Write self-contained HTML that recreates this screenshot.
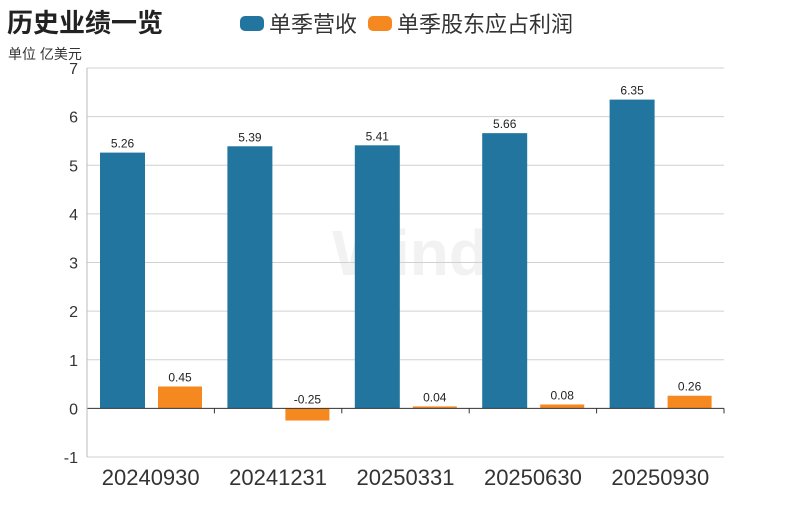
<!DOCTYPE html>
<html><head><meta charset="utf-8">
<style>
body{margin:0;background:#fff;width:796px;height:509px;overflow:hidden;font-family:"Liberation Sans","Noto Sans CJK SC",sans-serif;}
</style></head>
<body>
<svg id="chart" width="796" height="509" xmlns="http://www.w3.org/2000/svg" style="font-family:'Liberation Sans','Noto Sans CJK SC',sans-serif">
<text x="7" y="32" font-size="26" font-weight="bold" fill="#222">历史业绩一览</text>
<text x="8" y="59" font-size="14" fill="#333">单位 亿美元</text>
<g>
<rect x="240" y="16" width="24" height="15" rx="5" fill="#21759f"/>
<text x="269" y="32" font-size="22" fill="#333">单季营收</text>
<rect x="368" y="16" width="24" height="15" rx="5" fill="#f5881f"/>
<text x="397" y="32" font-size="22" fill="#333">单季股东应占利润</text>
</g>
<text x="410" y="275" font-size="64" font-weight="bold" fill="#f2f2f2" text-anchor="middle">Wind</text>
<g id="grid"></g><g id="bars"></g><g id="axes"></g>
</svg>
<script>
const categories=["20240930","20241231","20250331","20250630","20250930"];
const revenue=[5.26,5.39,5.41,5.66,6.35];
const profit=[0.45,-0.25,0.04,0.08,0.26];
const yTicks=[-1,0,1,2,3,4,5,6,7];
const NS="http://www.w3.org/2000/svg";
const x0=87,x1=724,yTop=68,yBot=457,vMin=-1,vMax=7;
const y=v=>yBot-(v-vMin)/(vMax-vMin)*(yBot-yTop);
const bw=(x1-x0)/categories.length;
const xc=i=>x0+i*bw;
function mk(tag,attrs,parent){const e=document.createElementNS(NS,tag);for(const k in attrs)e.setAttribute(k,attrs[k]);document.getElementById(parent).appendChild(e);return e;}
yTicks.forEach(t=>{
  if(t!==0){const l=mk('line',{x1:x0,x2:x1,y1:y(t),y2:y(t),stroke:'#d0d0d0','stroke-width':1},'grid');
  
  }
  const tx=mk('text',{x:78,y:y(t)+6,'font-size':16,fill:'#333','text-anchor':'end'},'axes');
  tx.textContent=t;
  
  
});
categories.forEach((c,i)=>{
  const rv=revenue[i],pv=profit[i];
  const b=mk('rect',{x:xc(i)+13,y:y(Math.max(rv,0)),width:45,height:Math.abs(y(rv)-y(0)),fill:'#21759f'},'bars');
  
  
  const bt=mk('text',{x:xc(i)+35.5,y:y(rv)-5,'font-size':12,fill:'#222','text-anchor':'middle'},'bars');
  bt.textContent=rv.toFixed(2);
  
  
  const o=mk('rect',{x:xc(i)+71,y:y(Math.max(pv,0)),width:44,height:Math.abs(y(pv)-y(0)),fill:'#f5881f'},'bars');
  
  
  const ot=mk('text',{x:xc(i)+93,y:y(Math.max(pv,0))-5,'font-size':12,fill:'#222','text-anchor':'middle'},'bars');
  ot.textContent=pv.toFixed(2);
  
  
  const xl=mk('text',{x:xc(i)+bw/2,y:485,'font-size':22,fill:'#333','text-anchor':'middle'},'axes');
  xl.textContent=c;
  
  
});
for(let i=0;i<=categories.length;i++){
  const tk=mk('line',{x1:xc(i),x2:xc(i),y1:y(0),y2:y(0)+5,stroke:'#333','stroke-width':1},'axes');
  
  
}
const za=mk('line',{x1:x0,x2:x1,y1:y(0),y2:y(0),stroke:'#333','stroke-width':1},'axes');


const ya=mk('line',{x1:x0,x2:x0,y1:yTop,y2:yBot,stroke:'#bbb','stroke-width':1},'axes');


</script>
</body></html>
